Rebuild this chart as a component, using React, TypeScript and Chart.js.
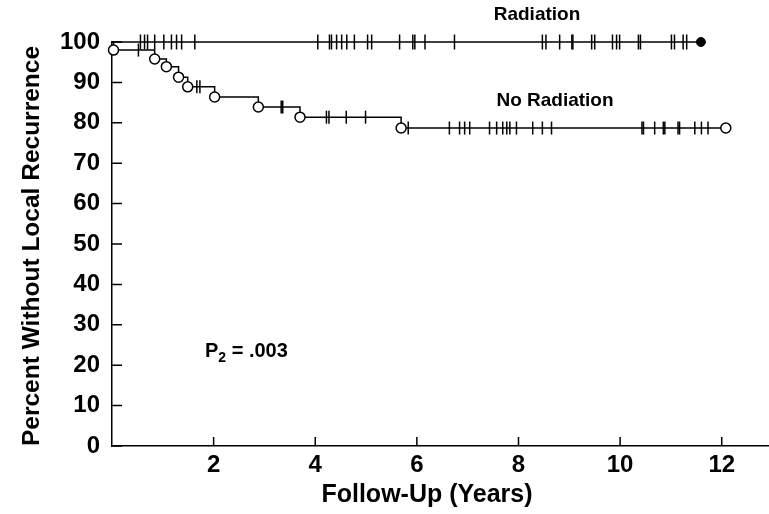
import React, { useEffect, useRef } from "react";
import { Chart, registerables } from "chart.js";

Chart.register(...registerables);

// ---- data (years / percent) ----
const xTickYears = [2, 4, 6, 8, 10, 12];
const yTickValues = [0, 10, 20, 30, 40, 50, 60, 70, 80, 90, 100];
const X_MAX = 12.93;

const radiationEndYear = 11.59;
const radiationCensorYears = [
  0.56, 0.64, 0.7, 0.84, 1.02, 1.17, 1.27, 1.37, 1.63,
  4.05, 4.28, 4.32, 4.42, 4.52, 4.62, 4.77, 5.03, 5.11, 5.66, 5.92, 5.96, 6.16, 6.74,
  8.47, 8.54, 8.81, 9.05, 9.07, 9.44, 9.5, 9.85, 9.93, 9.99, 10.36, 10.4,
  11.01, 11.07, 11.24, 11.31,
];

const noRadEventYears = [0.03, 0.84, 1.07, 1.31, 1.49, 2.02, 2.88, 3.7, 5.69];
const noRadSurvival = [98.0, 95.8, 93.9, 91.3, 88.9, 86.4, 83.9, 81.4, 78.7];
const noRadCensorYears = [
  0.52, 1.67, 1.73, 3.33, 3.36, 4.22, 4.27, 4.61, 4.99, 5.83,
  6.64, 6.84, 6.94, 7.04, 7.43, 7.57, 7.69, 7.77, 7.83, 7.96, 8.28, 8.47, 8.65,
  10.43, 10.46, 10.68, 10.85, 10.88, 11.14, 11.17, 11.47, 11.6, 11.73,
];
const noRadEndYear = 12.08;

const FONT = "'Liberation Sans', Arial, Helvetica, sans-serif";

function noRadLevel(t: number): number {
  let s = 100;
  for (let i = 0; i < noRadEventYears.length; i++) {
    if (noRadEventYears[i] <= t) s = noRadSurvival[i];
  }
  return s;
}

const decorPlugin = {
  id: "decor",
  afterDraw(chart: any) {
    const ctx = chart.ctx as CanvasRenderingContext2D;
    const xs = chart.scales.x;
    const ys = chart.scales.y;
    const area = chart.chartArea;
    ctx.save();
    ctx.strokeStyle = "#000";
    ctx.lineWidth = 1.5;
    // inward tick marks
    ctx.beginPath();
    yTickValues.forEach((v) => {
      const py = ys.getPixelForValue(v);
      ctx.moveTo(area.left, py);
      ctx.lineTo(area.left + 10, py);
    });
    xTickYears.forEach((v) => {
      const px = xs.getPixelForValue(v);
      ctx.moveTo(px, area.bottom);
      ctx.lineTo(px, area.bottom - 9);
    });
    ctx.stroke();

    ctx.fillStyle = "#000";
    // axis titles
    ctx.font = `bold 25px ${FONT}`;
    ctx.textAlign = "center";
    ctx.textBaseline = "middle";
    ctx.fillText("Follow-Up (Years)", 427, 495);
    ctx.font = `bold 24.5px ${FONT}`;
    ctx.save();
    ctx.translate(32, 246);
    ctx.rotate(-Math.PI / 2);
    ctx.fillText("Percent Without Local Recurrence", 0, 0);
    ctx.restore();

    // curve labels
    ctx.font = `bold 19px ${FONT}`;
    ctx.fillText("Radiation", 537, 15);
    ctx.fillText("No Radiation", 555, 101);

    // P2 = .003
    ctx.textAlign = "left";
    ctx.textBaseline = "alphabetic";
    let x = 205;
    const base = 357;
    ctx.font = `bold 20px ${FONT}`;
    ctx.fillText("P", x, base);
    x += ctx.measureText("P").width;
    ctx.font = `bold 14px ${FONT}`;
    ctx.fillText("2", x, base + 5);
    x += ctx.measureText("2").width;
    ctx.font = `bold 20px ${FONT}`;
    ctx.fillText(" = .003", x, base);
    ctx.restore();
  },
};

export default function App() {
  const canvasRef = useRef<HTMLCanvasElement | null>(null);

  useEffect(() => {
    if (!canvasRef.current) return;

    const noRadLine = [{ x: 0, y: 100 }]
      .concat(noRadEventYears.map((t, i) => ({ x: t, y: noRadSurvival[i] })))
      .concat([{ x: noRadEndYear, y: noRadLevel(noRadEndYear) }]);

    const chart = new Chart(canvasRef.current, {
      type: "scatter",
      data: {
        datasets: [
          {
            label: "Radiation end",
            data: [{ x: radiationEndYear, y: 100 }],
            pointStyle: "circle",
            pointRadius: 4.5,
            backgroundColor: "#000",
            borderColor: "#000",
            borderWidth: 1,
          },
          {
            label: "No Radiation end",
            data: [{ x: noRadEndYear, y: noRadLevel(noRadEndYear) }],
            pointStyle: "circle",
            pointRadius: 5,
            backgroundColor: "#fff",
            borderColor: "#000",
            borderWidth: 1.5,
          },
          {
            label: "No Radiation events",
            data: noRadEventYears.map((t, i) => ({ x: t, y: noRadSurvival[i] })),
            pointStyle: "circle",
            pointRadius: 5,
            backgroundColor: "#fff",
            borderColor: "#000",
            borderWidth: 1.5,
          },
          {
            label: "Radiation censored",
            data: radiationCensorYears.map((t) => ({ x: t, y: 100 })),
            pointStyle: "line",
            rotation: 90,
            pointRadius: 7.5,
            borderColor: "#000",
            borderWidth: 1.5,
          },
          {
            label: "No Radiation censored",
            data: noRadCensorYears.map((t) => ({ x: t, y: noRadLevel(t) })),
            pointStyle: "line",
            rotation: 90,
            pointRadius: 6.5,
            borderColor: "#000",
            borderWidth: 1.5,
          },
          {
            label: "Radiation",
            type: "line",
            data: [
              { x: 0, y: 100 },
              { x: radiationEndYear, y: 100 },
            ],
            borderColor: "#000",
            borderWidth: 1.5,
            pointRadius: 0,
            fill: false,
          } as any,
          {
            label: "No Radiation",
            type: "line",
            data: noRadLine,
            stepped: "before",
            borderColor: "#000",
            borderWidth: 1.5,
            pointRadius: 0,
            fill: false,
          } as any,
        ],
      },
      options: {
        animation: false,
        responsive: false,
        clip: false as any,
        layout: { autoPadding: false, padding: { top: 42, right: 0, left: 0, bottom: 0 } } as any,
        plugins: {
          legend: { display: false },
          tooltip: { enabled: false },
        },
        scales: {
          x: {
            type: "linear",
            min: 0,
            max: X_MAX,
            afterBuildTicks: (scale: any) => {
              scale.ticks = xTickYears.map((v) => ({ value: v }));
            },
            afterFit: (scale: any) => {
              scale.height = 68;
              scale.paddingRight = 0;
              scale.paddingLeft = 0;
            },
            grid: { display: false, drawTicks: false },
            border: { display: true, color: "#000", width: 1.5 },
            ticks: {
              color: "#000",
              padding: 5,
              maxRotation: 0,
              font: { family: FONT, size: 24, weight: "bold" },
            },
          },
          y: {
            type: "linear",
            min: 0,
            max: 100,
            afterBuildTicks: (scale: any) => {
              scale.ticks = yTickValues.map((v) => ({ value: v }));
            },
            afterFit: (scale: any) => {
              scale.width = 112;
            },
            grid: { display: false, drawTicks: false },
            border: { display: true, color: "#000", width: 1.5 },
            ticks: {
              color: "#000",
              padding: 12,
              font: { family: FONT, size: 24, weight: "bold" },
            },
          },
        },
      },
      plugins: [decorPlugin],
    });

    return () => chart.destroy();
  }, []);

  return (
    <div style={{ position: "fixed", left: 0, top: 0, width: 769, height: 514, background: "#fff" }}>
      <canvas ref={canvasRef} width={769} height={514} style={{ display: "block" }} />
    </div>
  );
}
